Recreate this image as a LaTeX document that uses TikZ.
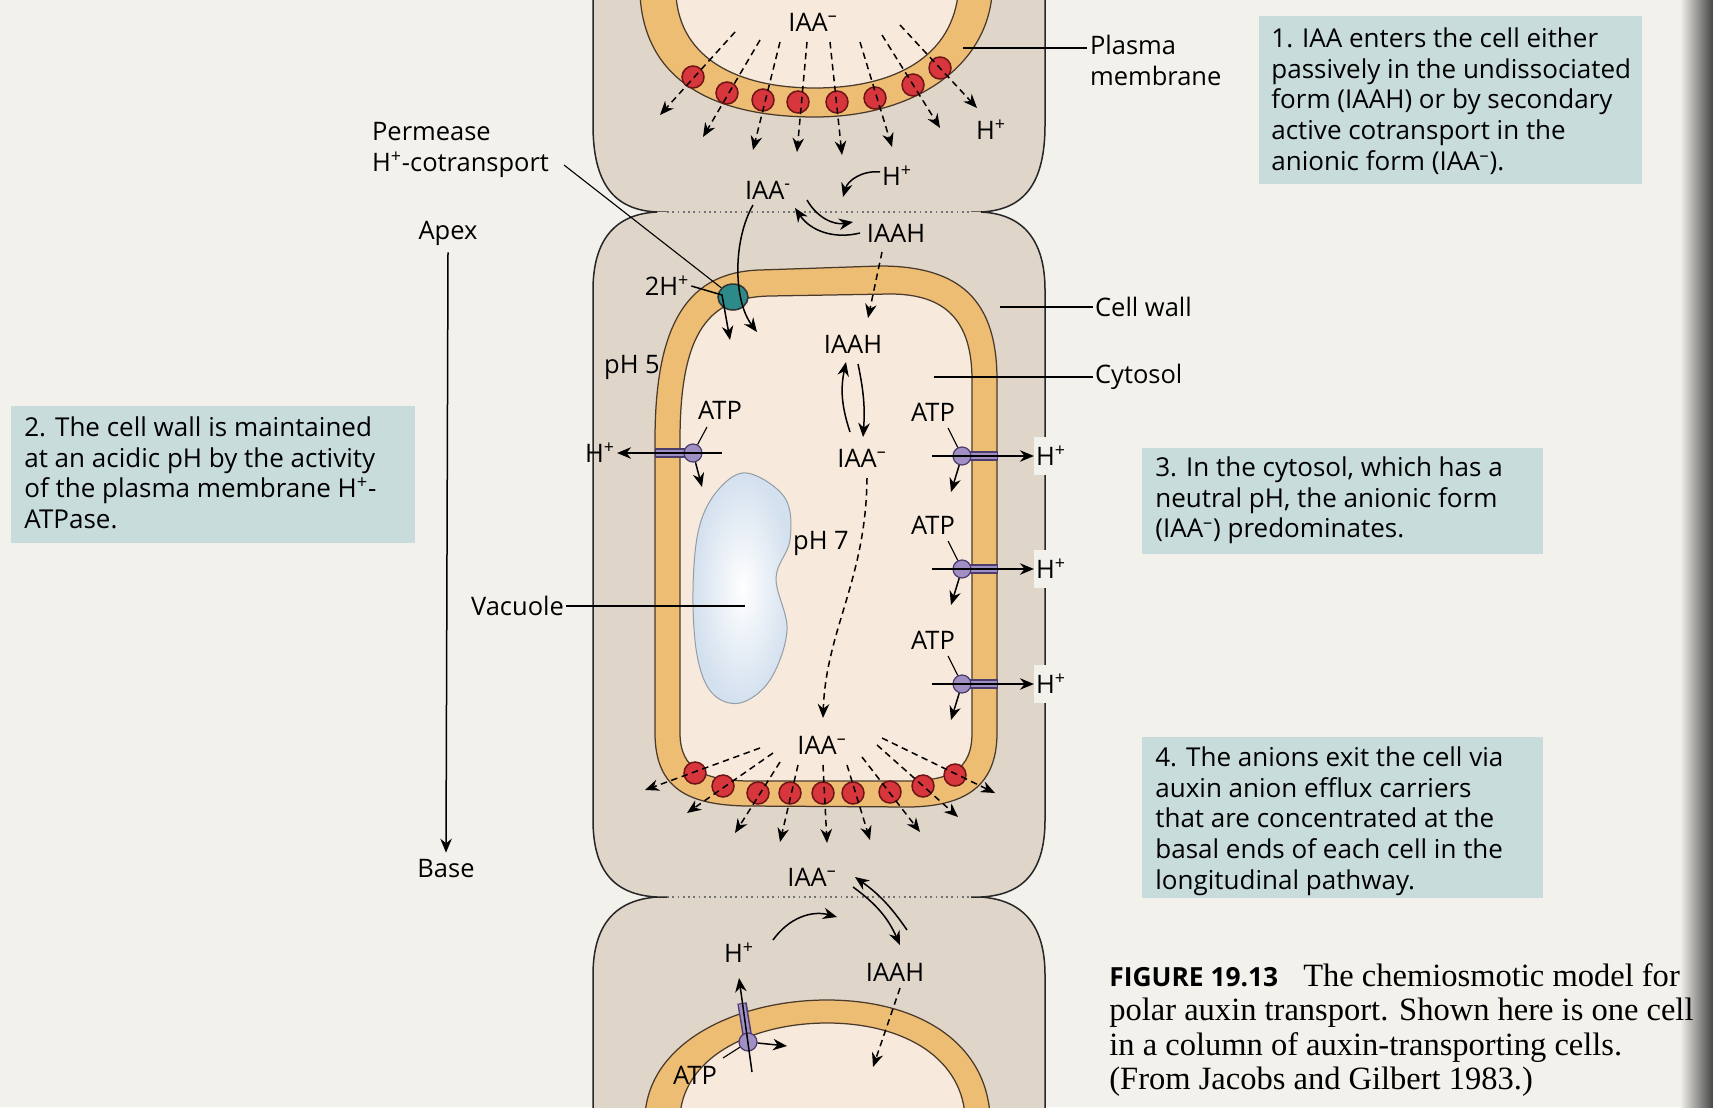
\documentclass[tikz,border=0pt]{standalone}
\usepackage{fontspec}
\setmainfont{Liberation Serif}
\setsansfont{Open Sans}
\usepackage{tikz}
\usetikzlibrary{arrows.meta,shapes.geometric}

\definecolor{paper}{HTML}{F2F1EC}
\definecolor{wallcol}{HTML}{E0D5C9}
\definecolor{cytocol}{HTML}{F7E9DB}
\definecolor{pmcol}{HTML}{EEBD74}
\definecolor{edgecol}{HTML}{4A3A2C}
\definecolor{carrcol}{HTML}{D6363C}
\definecolor{carredge}{HTML}{6E1416}
\definecolor{pumpcol}{HTML}{9F8FC2}
\definecolor{pumpedge}{HTML}{4B3C6E}
\definecolor{permcol}{HTML}{2C8A88}
\definecolor{vaccol}{HTML}{D3E0EE}
\definecolor{boxcol}{HTML}{C8DCDB}
\definecolor{spine}{HTML}{454545}

\newcommand{\anion}{IAA\textsuperscript{--}}
\newcommand{\proton}{H\textsuperscript{+}}
\newcommand{\labelfont}{\sffamily\fontsize{14.5}{17.6}\selectfont}

\tikzset{
  arr/.style       = {-{Stealth[length=2.8mm,width=2.3mm]},line width=0.3mm},
  dasharr/.style   = {arr,dash pattern=on 1.3mm off 0.9mm},
  lbl/.style       = {font=\labelfont,inner sep=1pt},
  boxtxt/.style    = {font=\sffamily\fontsize{14.8}{17.6}\selectfont,align=left,inner sep=0pt,anchor=north west},
  leader/.style    = {line width=0.22mm},
  celledge/.style  = {line width=0.3mm,black!85},
  pmedge/.style    = {line width=0.25mm,edgecol},
  carrier/.style   = {circle,minimum size=4.4mm,inner sep=0pt,fill=carrcol,draw=carredge,line width=0.3mm},
  pumpball/.style  = {circle,minimum size=3.6mm,inner sep=0pt,fill=pumpcol,draw=pumpedge,line width=0.25mm},
  stalkedge/.style = {line width=1.9mm,pumpedge},
  stalk/.style     = {line width=1.3mm,pumpcol},
  lamella/.style   = {dotted,line width=0.35mm,black!55}
}

% H+-ATPase in the right-hand membrane: #1 = height, #2 = tag
\newcommand{\pumpright}[2]{%
  \draw[stalkedge] (962,#1) -- (998,#1);
  \draw[stalk] (963,#1) -- (997,#1);
  \node[pumpball] (ball#2) at (962,#1) {};
  \node[lbl] (atp#2) at (933,#1-44) {ATP};
  \node[lbl,fill=paper,inner ysep=5pt] (h#2) at (1051,#1) {\proton};
  \draw[leader] (948,#1-28) -- (ball#2);
  \draw[arr] (932,#1) -- (h#2.west);
  \draw[arr] (ball#2) -- (951,#1+36);
}

\begin{document}
\begin{tikzpicture}[x=0.2mm,y=-0.2mm]
  \useasboundingbox (0,0) rectangle (1713,1107);
  \fill[paper] (0,0) rectangle (1713,1107);
  \shade[left color=paper,right color=spine] (1680,0) rectangle (1713,1107);

  \begin{scope}
    \clip (0,0) rectangle (1713,1107);
    % upper cell
    \fill[wallcol] (593,-10) -- (593,125) .. controls (593,185) and (615,210) .. (657,212)
      -- (981,212) .. controls (1023,210) and (1045,185) .. (1045,125) -- (1045,-10) -- cycle;
    \fill[pmcol] (640,-5) .. controls (645,85) and (720,117) .. (815,117)
      .. controls (910,117) and (985,70) .. (992,-5) -- cycle;
    \fill[cytocol] (676,-5) .. controls (680,60) and (740,88) .. (815,88)
      .. controls (890,88) and (950,60) .. (958,-5) -- cycle;
    \draw[pmedge] (640,-5) .. controls (645,85) and (720,117) .. (815,117)
      .. controls (910,117) and (985,70) .. (992,-5);
    \draw[pmedge] (676,-5) .. controls (680,60) and (740,88) .. (815,88)
      .. controls (890,88) and (950,60) .. (958,-5);
    \draw[celledge] (593,-10) -- (593,125) .. controls (593,185) and (615,210) .. (657,212) -- (667,212);
    \draw[celledge] (971,212) -- (981,212) .. controls (1023,210) and (1045,185) .. (1045,125) -- (1045,-10);

    % middle cell
    \fill[wallcol] (657,212) .. controls (615,214) and (593,240) .. (593,290) -- (593,820)
      .. controls (593,875) and (618,895) .. (657,897) -- (981,897)
      .. controls (1020,895) and (1045,875) .. (1045,820) -- (1045,290)
      .. controls (1045,240) and (1023,214) .. (981,212) -- cycle;
    \draw[celledge] (657,212) .. controls (615,214) and (593,240) .. (593,290) -- (593,820)
      .. controls (593,875) and (618,895) .. (657,897);
    \draw[celledge] (981,212) .. controls (1023,214) and (1045,240) .. (1045,290) -- (1045,820)
      .. controls (1045,875) and (1020,895) .. (981,897);
    \draw[pmedge,fill=pmcol] (655,440) .. controls (655,320) and (690,272) .. (760,270) -- (880,266)
      .. controls (960,266) and (997,300) .. (997,380) -- (997,733)
      .. controls (997,790) and (960,806) .. (910,807) -- (747,806)
      .. controls (690,805) and (655,790) .. (655,733) -- cycle;
    \draw[pmedge,fill=cytocol] (680,440) .. controls (680,330) and (710,297) .. (770,296) -- (890,294)
      .. controls (945,294) and (972,320) .. (972,380) -- (972,733)
      .. controls (972,770) and (950,780) .. (910,781) -- (747,781)
      .. controls (705,780) and (680,770) .. (680,733) -- cycle;
    \shade[inner color=white,outer color=vaccol,draw=vaccol!70!black,line width=0.2mm]
      plot[smooth cycle,tension=0.6] coordinates {(747,473) (785,498) (790,540) (776,578) (787,630)
      (770,680) (740,703) (712,693) (697,655) (693,590) (699,528) (718,490)};

    % lower cell
    \fill[wallcol] (657,897) .. controls (615,900) and (593,925) .. (593,975) -- (593,1120)
      -- (1045,1120) -- (1045,975) .. controls (1045,925) and (1023,900) .. (981,897) -- cycle;
    \draw[pmedge,fill=pmcol] (645,1115) .. controls (650,1040) and (740,1000) .. (827,1000)
      .. controls (915,1000) and (985,1040) .. (990,1115);
    \draw[pmedge,fill=cytocol] (680,1115) .. controls (685,1055) and (755,1023) .. (827,1023)
      .. controls (900,1023) and (960,1055) .. (965,1115);
    \draw[celledge] (667,897) -- (657,897) .. controls (615,900) and (593,925) .. (593,975) -- (593,1120);
    \draw[celledge] (971,897) -- (981,897) .. controls (1023,900) and (1045,925) .. (1045,975) -- (1045,1120);
  \end{scope}

  \draw[lamella] (667,212) -- (971,212);
  \draw[lamella] (667,897) -- (971,897);

  % efflux carriers and anion flux
  \foreach \cx/\cy [count=\i] in {693/77,727/93,763/100,798/102,837/102,875/98,913/85,940/68}
    \node[carrier] (cu\i) at (\cx,\cy) {};
  \foreach \sx/\sy/\ex/\ey in {735/32/660/115,760/40/703/137,780/42/753/150,807/42/797/152,
      830/42/842/155,860/42/892/147,882/35/940/128,900/25/977/108}
    \draw[dasharr] (\sx,\sy) -- (\ex,\ey);
  \foreach \cx/\cy [count=\i] in {695/773,723/786,758/793,790/793,823/793,853/793,890/792,923/786,955/775}
    \node[carrier] (cl\i) at (\cx,\cy) {};
  \foreach \sx/\sy/\ex/\ey in {760/748/645/790,773/753/687/813,780/762/735/833,798/765/780/842,
      823/765/827/843,847/765/870/840,862/757/920/832,877/745/958/817,882/738/995/793}
    \draw[dasharr] (\sx,\sy) -- (\ex,\ey);

  % labels in and around the column
  \node[lbl] (iaaTop) at (813,22) {\anion};
  \node[lbl] (hTop) at (991,130) {\proton};
  \node[lbl] (iaaW) at (768,190) {IAA\textsuperscript{-}};
  \node[lbl] (hW) at (897,176) {\proton};
  \node[lbl] (iaahW) at (896,233) {IAAH};
  \node[lbl] (twoH) at (667,286) {2\proton};
  \node[lbl] (ph5) at (632,367) {pH 5};
  \node[lbl] (iaahC) at (853,344) {IAAH};
  \node[lbl] (iaaC) at (862,458) {\anion};
  \node[lbl] (ph7) at (821,543) {pH 7};
  \node[lbl] (iaaBot) at (822,745) {\anion};
  \node[lbl] (iaaB) at (812,877) {\anion};
  \node[lbl] (iaahB) at (895,972) {IAAH};

  % apical exchange and cotransport
  \node[ellipse,minimum width=6mm,minimum height=5.2mm,inner sep=0pt,fill=permcol,draw=black!80,line width=0.3mm]
    (perm) at (733,297) {};
  \draw[arr] (807,200) to[bend right=35] (853,222);
  \draw[arr] (860,233) to[bend left=35] (795,208);
  \draw[arr] (880,172) to[bend right=40] (843,197);
  \draw[arr] (753,205) .. controls (733,240) and (733,300) .. (757,332);
  \draw[arr] (twoH.east) -- (722,295) -- (730,340);
  \draw[dasharr] (882,252) -- (868,318);

  % cytosol
  \draw[arr] (850,432) to[bend left=15] (846,362);
  \draw[arr] (858,364) to[bend left=8] (863,437);
  \draw[dasharr] (867,478) .. controls (866,580) and (826,630) .. (823,718);

  % basal exchange
  \draw[arr] (907,930) to[bend right=10] (855,877);
  \draw[arr] (853,887) to[bend left=15] (900,945);
  \draw[arr] (773,940) to[bend left=35] (837,917);
  \draw[dasharr] (900,988) -- (873,1067);

  % H+-ATPases
  \draw[stalkedge] (655,453) -- (693,453);
  \draw[stalk] (656,453) -- (693,453);
  \node[pumpball] (ballL) at (693,453) {};
  \node[lbl] (atpL) at (720,410) {ATP};
  \node[lbl] (hL) at (600,453) {\proton};
  \draw[leader] (707,427) -- (ballL);
  \draw[arr] (722,453) -- (hL.east);
  \draw[arr] (ballL) -- (702,487);
  \pumpright{456}{R1}
  \pumpright{569}{R2}
  \pumpright{684}{R3}
  \draw[stalkedge] (742,1003) -- (748,1040);
  \draw[stalk] (742,1004) -- (748,1040);
  \node[pumpball] (ballB) at (748,1042) {};
  \node[lbl] (atpB) at (695,1075) {ATP};
  \node[lbl] (hB) at (739,953) {\proton};
  \draw[leader] (723,1058) -- (ballB);
  \draw[arr] (752,1072) -- (739,978);
  \draw[arr] (ballB) -- (787,1046);

  % callouts
  \node[lbl,align=left,anchor=west] (permLbl) at (370,150) {Permease\\\proton-cotransport};
  \draw[leader] (564,165) -- (perm);
  \node[lbl] (apex) at (448,233) {Apex};
  \node[lbl] (base) at (446,869) {Base};
  \draw[arr] ([yshift=-1mm]apex.south) -- ([yshift=1mm]base.north);
  \node[lbl,anchor=east] (vacLbl) at (566,606) {Vacuole};
  \draw[leader] (vacLbl.east) -- (745,606);
  \node[lbl,align=left,anchor=west] (pmLbl) at (1088,60) {Plasma\\membrane};
  \draw[leader] (963,48) -- (1087,48);
  \node[lbl,anchor=west] (cwLbl) at (1093,307) {Cell wall};
  \draw[leader] (1000,307) -- (cwLbl.west);
  \node[lbl,anchor=west] (cytLbl) at (1093,377) {Cytosol};
  \draw[leader] (934,377) -- (cytLbl.west);

  % numbered notes
  \fill[boxcol] (1259,16) rectangle (1642,184);
  \node[boxtxt] (note1) at (1271,27) {1. IAA enters the cell either\\passively in the undissociated\\form (IAAH) or by secondary\\active cotransport in the\\anionic form (\anion).};
  \fill[boxcol] (11,406) rectangle (415,543);
  \node[boxtxt] (note2) at (24,416) {2. The cell wall is maintained\\at an acidic pH by the activity\\of the plasma membrane \proton-\\ATPase.};
  \fill[boxcol] (1142,448) rectangle (1543,554);
  \node[boxtxt] (note3) at (1155,456) {3. In the cytosol, which has a\\neutral pH, the anionic form\\(\anion) predominates.};
  \fill[boxcol] (1142,737) rectangle (1543,898);
  \node[boxtxt] (note4) at (1155,746) {4. The anions exit the cell via\\auxin anion efflux carriers\\that are concentrated at the\\basal ends of each cell in the\\longitudinal pathway.};

  \node[anchor=north west,align=left,inner sep=0pt,font=\rmfamily\fontsize{18.5}{19.6}\selectfont] (caption) at (1109,963)
    {{\sffamily\bfseries\fontsize{15}{19.6}\selectfont FIGURE 19.13}\hspace{5mm}The chemiosmotic model for\\polar auxin transport. Shown here is one cell\\in a column of auxin-transporting cells.\\(From Jacobs and Gilbert 1983.)};
\end{tikzpicture}
\end{document}
